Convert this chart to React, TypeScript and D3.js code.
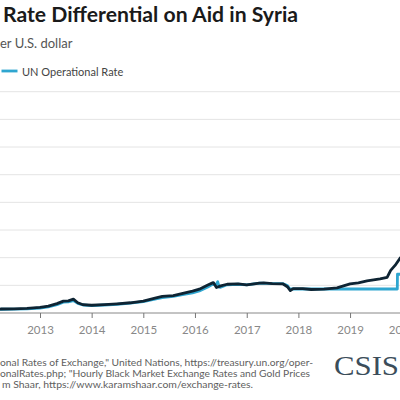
import React, { useEffect, useRef } from 'react';
import * as d3 from 'd3';

// Syrian pounds per U.S. dollar
const blackDates = [
  '2012-01-01', '2012-04-01', '2012-07-01', '2012-10-01', '2013-01-01', '2013-03-01',
  '2013-05-01', '2013-06-15', '2013-07-20', '2013-08-25', '2013-09-25', '2013-11-01',
  '2014-01-01', '2014-04-01', '2014-07-01', '2014-10-01', '2015-01-01', '2015-04-01',
  '2015-05-15', '2015-08-01', '2015-10-15', '2015-12-15', '2016-02-01', '2016-04-01',
  '2016-05-01', '2016-05-10', '2016-06-01', '2016-07-01', '2016-08-15', '2016-11-01',
  '2017-01-01', '2017-04-01', '2017-05-01', '2017-07-01', '2017-09-15', '2017-10-15',
  '2017-11-05', '2017-11-25', '2018-02-01', '2018-04-01', '2018-07-01', '2018-10-01',
  '2019-01-01', '2019-03-01', '2019-05-01', '2019-08-01', '2019-09-20', '2019-10-15',
  '2019-11-15', '2019-12-20', '2020-02-01',
];
const blackValues = [
  60, 72, 74, 82, 100, 125,
  170, 215, 220, 250, 185, 150,
  140, 150, 165, 185, 215, 275,
  300, 315, 360, 395, 430, 505,
  540, 550, 460, 490, 520, 525,
  510, 540, 545, 530, 525, 475,
  405, 440, 440, 425, 430, 455,
  525, 545, 580, 615, 645, 770,
  860, 990, 1100,
];

const unDates = [
  '2012-01-01', '2012-04-01', '2012-07-01', '2012-10-01', '2013-01-01', '2013-03-01',
  '2013-05-01', '2013-06-15', '2013-07-20', '2013-08-25', '2013-09-25', '2013-11-01',
  '2014-01-01', '2014-04-01', '2014-07-01', '2014-10-01', '2015-01-01', '2015-04-01',
  '2015-05-15', '2015-08-01', '2015-10-15', '2015-12-15', '2016-02-01', '2016-04-01',
  '2016-05-01', '2016-06-01', '2016-06-10', '2016-06-20', '2016-07-01', '2016-08-15',
  '2016-11-01', '2017-01-01', '2017-04-01', '2017-07-01', '2017-09-15', '2017-10-15',
  '2017-11-01', '2019-12-01', '2019-12-02', '2020-02-01',
];
const unValues = [
  58, 68, 70, 75, 90, 110,
  150, 195, 200, 225, 175, 145,
  135, 145, 158, 178, 205, 255,
  280, 300, 335, 365, 400, 470,
  515, 520, 565, 470, 465, 510,
  520, 510, 540, 530, 530, 495,
  434, 434, 700, 700,
];

const yTicks = [500, 1000, 1500, 2000, 2500, 3000, 3500, 4000];
const yearTicks = ['2013', '2014', '2015', '2016', '2017', '2018', '2019', '2020'];

const sourceLines = [
  'onal Rates of Exchange," United Nations, https://treasury.un.org/oper-',
  'onalRates.php; "Hourly Black Market Exchange Rates and Gold Prices',
  'm Shaar, https://www.karamshaar.com/exchange-rates.',
];
const sourceWidths = [313, 310, 251];

const parse = d3.timeParse('%Y-%m-%d');

const App: React.FC = () => {
  const ref = useRef<SVGSVGElement>(null);

  useEffect(() => {
    const { current: node } = ref;
    if (!node) return;
    const svg = d3.select(node);
    svg.selectAll('*').remove();
    const font = 'Lato, "Open Sans", sans-serif';

    const x = d3
      .scaleTime()
      .domain([parse('2013-01-01')!, parse('2020-01-01')!])
      .range([40, 401.7]);
    const y = d3.scaleLinear().domain([0, 4000]).range([313, 91.7]);

    // title block
    svg.append('text').attr('x', 3).attr('y', 21.7).text('Rate Differential on Aid in Syria')
      .attr('font-family', font).attr('font-weight', 700).attr('font-size', 20)
      .attr('textLength', 295).attr('lengthAdjust', 'spacingAndGlyphs').attr('fill', '#1a1a1a');
    svg.append('text').attr('x', 0).attr('y', 48.3).text('er U.S. dollar')
      .attr('font-family', font).attr('font-size', 13).attr('fill', '#555');

    svg.append('line').attr('x1', 1.5).attr('x2', 17.5).attr('y1', 71).attr('y2', 71)
      .attr('stroke', '#2fa6d0').attr('stroke-width', 2.8);
    svg.append('text').attr('x', 22).attr('y', 76).text('UN Operational Rate')
      .attr('font-family', font).attr('font-size', 11).attr('fill', '#444');

    // grid
    svg.append('g').selectAll('line').data(yTicks).join('line')
      .attr('x1', 0).attr('x2', 400)
      .attr('y1', (d) => y(d)).attr('y2', (d) => y(d))
      .attr('stroke', '#e4e4e4').attr('stroke-width', 1);

    // x axis
    const axis = svg.append('g').attr('transform', `translate(0,${y(0)})`)
      .call(
        d3.axisBottom(x)
          .tickValues(yearTicks.map((t) => parse(`${t}-01-01`)!))
          .tickFormat(d3.timeFormat('%Y') as any)
          .tickSize(5)
          .tickPadding(8)
      );
    axis.select('.domain').attr('stroke', '#888').attr('d', 'M0,0H400');
    axis.selectAll('.tick line').attr('stroke', '#777');
    axis.selectAll('.tick text').attr('font-family', font).attr('font-size', 11.5).attr('fill', '#888');

    const line = d3
      .line<[Date, number]>()
      .x((d) => x(d[0]))
      .y((d) => y(d[1]));

    const unData = unDates.map((d, i) => [parse(d)!, unValues[i]] as [Date, number]);
    const blackData = blackDates.map((d, i) => [parse(d)!, blackValues[i]] as [Date, number]);

    svg.append('path').datum(unData).attr('d', line).attr('fill', 'none')
      .attr('stroke', '#2fa6d0').attr('stroke-width', 2.8).attr('stroke-linejoin', 'round');
    svg.append('path').datum(blackData).attr('d', line).attr('fill', 'none')
      .attr('stroke', '#0e2433').attr('stroke-width', 2.8).attr('stroke-linejoin', 'round');

    // source
    svg.append('g').selectAll('text').data(sourceLines).join('text')
      .attr('x', (d, i) => (i === 2 ? 2 : 0))
      .attr('y', (d, i) => 365.5 + i * 11)
      .text((d) => d)
      .attr('textLength', (d, i) => sourceWidths[i])
      .attr('lengthAdjust', 'spacingAndGlyphs')
      .attr('font-family', font).attr('font-size', 10).attr('fill', '#5e5e5e');

    svg.append('text').attr('x', 334).attr('y', 375).text('CSIS')
      .attr('font-family', '"Liberation Serif", serif').attr('font-size', 27)
      .attr('textLength', 65).attr('lengthAdjust', 'spacingAndGlyphs').attr('fill', '#3b4d5a');
  }, []);

  return (
    <svg
      ref={ref}
      width={400}
      height={400}
      style={{ position: 'absolute', left: 0, top: 0, background: '#fff' }}
    />
  );
};

export default App;
